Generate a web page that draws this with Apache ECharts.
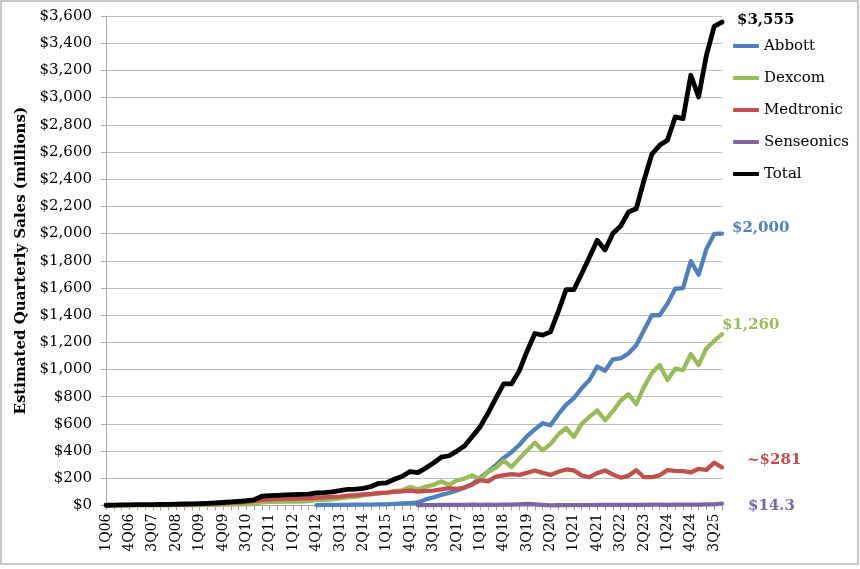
<!DOCTYPE html>
<html>
<head>
<meta charset="utf-8">
<script src="https://cdn.jsdelivr.net/npm/echarts@6/dist/echarts.min.js"></script>
<style>
  html, body { margin: 0; padding: 0; background: #fff; }
  #chart { width: 860px; height: 569px; }
</style>
</head>
<body>
<div id="chart"></div>
<script>
const categories = [
  '1Q06','2Q06','3Q06','4Q06','1Q07','2Q07','3Q07','4Q07','1Q08','2Q08','3Q08','4Q08',
  '1Q09','2Q09','3Q09','4Q09','1Q10','2Q10','3Q10','4Q10','1Q11','2Q11','3Q11','4Q11',
  '1Q12','2Q12','3Q12','4Q12','1Q13','2Q13','3Q13','4Q13','1Q14','2Q14','3Q14','4Q14',
  '1Q15','2Q15','3Q15','4Q15','1Q16','2Q16','3Q16','4Q16','1Q17','2Q17','3Q17','4Q17',
  '1Q18','2Q18','3Q18','4Q18','1Q19','2Q19','3Q19','4Q19','1Q20','2Q20','3Q20','4Q20',
  '1Q21','2Q21','3Q21','4Q21','1Q22','2Q22','3Q22','4Q22','1Q23','2Q23','3Q23','4Q23',
  '1Q24','2Q24','3Q24','4Q24','1Q25','2Q25','3Q25','4Q25'
];

const seriesNames = ['Abbott', 'Dexcom', 'Medtronic', 'Senseonics', 'Total'];

const abbott = [
  null,null,null,null, null,null,null,null, null,null,null,null,
  null,null,null,null, null,null,null,null, null,null,null,null,
  null,null,null,3, 4,4,5,5, 6,6,7,8, 9,12,15,18,
  22,45,60,78, 92,110,132,158, 205,250,297,350, 392,445,510,560,
  605,590,670,740, 790,862,923,1022, 991,1074,1082,1118, 1179,1289,1399,1399,
  1484,1594,1599,1797, 1697,1887,1997,2000
];

const dexcom = [
  1,1,1,1, 1,1,2,2, 2,2,3,3, 3,4,5,6, 7,8,9,10,
  24,26,27,28, 28,29,33,40, 42,46,52,60, 63,75,82,90, 94,105,112,137,
  118,139,152,177, 152,184,198,222, 192,248,278,330, 283,345,405,462, 405,451,522,570,
  505,600,652,700, 627,692,772,818, 745,872,975,1033, 923,1006,996,1114, 1034,1156,1210,1260
];

const medtronic = [
  1,2,3,4, 5,5,5,6, 7,8,8,9, 11,12,14,16, 19,22,26,32,
  42,45,47,48, 48,50,52,57, 60,63,66,72, 76,82,86,92, 95,100,104,110,
  103,108,110,118, 128,122,132,155, 187,178,213,222, 230,225,240,257, 240,225,248,265,
  258,222,208,238, 258,228,205,218, 260,208,208,222, 260,255,253,243, 270,262,315,281
];

const senseonics = [
  null,null,null,null, null,null,null,null, null,null,null,null, null,null,null,null, null,null,null,null,
  null,null,null,null, null,null,null,null, null,null,null,null, null,null,null,null, null,null,null,null,
  2,3,3,4, 4,5,5,6, 5,6,5,6, 7,9,11,8, 5,1,2,3,
  3,3,3,4, 4,4,5,5, 5,5,6,6, 5,6,6,7, 7,8,9,14.3
];

const total = [
  2,3,4,5, 6,6,7,8, 9,10,11,12, 14,16,19,22, 26,30,35,42,
  68,72,75,78, 80,82,84,92, 95,100,110,118, 120,126,140,163, 167,193,215,250,
  242,275,313,355, 366,400,440,510, 580,680,790,894, 894,990,1135,1265, 1253,1277,1425,1587,
  1587,1704,1826,1950, 1880,2000,2055,2158, 2182,2392,2583,2649, 2686,2858,2845,3164, 3005,3311,3524,3555
];

const endLabels = ['$2,000', '$1,260', '~$281', '$14.3', '$3,555'];
const colors = ['#4f81bd', '#9bbb59', '#c0504d', '#8064a2', '#000000'];
const yTicks = { min: 0, max: 3600, interval: 200 };

const FONT = "'DejaVu Serif', Georgia, serif";
const seriesData = [abbott, dexcom, medtronic, senseonics, total];
const labelOffsets = [[2, -5], [-8, -9], [17, -7], [18, 3], [7, -2]];

const chart = echarts.init(document.getElementById('chart'));

const series = seriesNames.map((name, k) => ({
  name: name,
  type: 'line',
  data: seriesData[k],
  showSymbol: false,
  symbol: 'none',
  connectNulls: false,
  animation: false,
  z: 2 + k,
  lineStyle: { color: colors[k], width: k === 4 ? 4.8 : 4.3, cap: 'round', join: 'round' },
  itemStyle: { color: colors[k] },
  endLabel: {
    show: true,
    formatter: () => endLabels[k],
    offset: labelOffsets[k],
    color: colors[k],
    fontFamily: FONT,
    fontWeight: 'bold',
    fontSize: 15
  }
}));

chart.setOption({
  animation: false,
  backgroundColor: '#ffffff',
  graphic: [{
    type: 'rect',
    shape: { x: 1, y: 1, width: 857, height: 563 },
    style: { fill: 'none', stroke: '#b5b5b5', lineWidth: 1.5 },
    silent: true
  }],
  grid: { left: 106, right: 138, top: 16, bottom: 63.5, containLabel: false },
  legend: {
    orient: 'vertical',
    left: 733,
    top: 37,
    padding: 0,
    itemWidth: 26,
    itemHeight: 4,
    itemGap: 14,
    icon: 'roundRect',
    data: seriesNames,
    textStyle: { fontFamily: FONT, fontSize: 15, color: '#000', lineHeight: 18, height: 18 }
  },
  xAxis: {
    type: 'category',
    data: categories,
    boundaryGap: false,
    axisLine: { show: true, lineStyle: { color: '#a6a6a6', width: 1 } },
    axisTick: { show: true, interval: 0, length: 5, lineStyle: { color: '#a6a6a6' } },
    axisLabel: {
      interval: 2,
      rotate: 90,
      margin: 8,
      fontFamily: FONT,
      fontSize: 14,
      color: '#000'
    },
    splitLine: { show: false }
  },
  yAxis: {
    type: 'value',
    min: yTicks.min,
    max: yTicks.max,
    interval: yTicks.interval,
    name: 'Estimated Quarterly Sales (millions)',
    nameLocation: 'middle',
    nameGap: 72,
    nameTextStyle: { fontFamily: FONT, fontSize: 15, fontWeight: 'bold', color: '#000' },
    axisLine: { show: true, lineStyle: { color: '#a6a6a6', width: 1 } },
    axisTick: { show: true, length: 5, lineStyle: { color: '#a6a6a6' } },
    axisLabel: {
      margin: 14,
      fontFamily: FONT,
      fontSize: 15,
      color: '#000',
      formatter: v => '$' + v.toLocaleString('en-US')
    },
    splitLine: { show: true, lineStyle: { color: '#bdbdbd', width: 1 } }
  },
  series: series
});
</script>
</body>
</html>
